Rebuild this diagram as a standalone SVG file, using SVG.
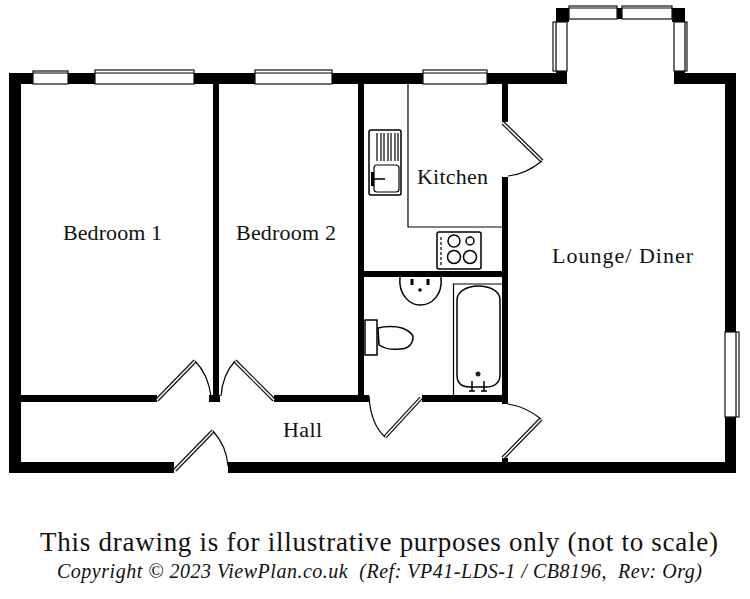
<svg xmlns="http://www.w3.org/2000/svg" width="750" height="599" viewBox="0 0 750 599">
<style>
.w{fill:#000}
.win{fill:#fff;stroke:#111;stroke-width:1.2}
.t{fill:none;stroke:#000;stroke-width:1.2}
.th{fill:none;stroke:#000;stroke-width:1.5}
.leaf{fill:none;stroke:#111;stroke-width:4}
.leafi{fill:none;stroke:#fff;stroke-width:1.6}
text{font-family:"Liberation Serif","DejaVu Serif",serif;fill:#111}
.l{font-size:22px}
</style>
<rect width="750" height="599" fill="#fff"/>
<g id="walls">
<path class="w" d="M9 73H33V84H21V462H174V473H9Z"/>
<rect class="w" x="68" y="73" width="27" height="11"/>
<rect class="w" x="194" y="73" width="62" height="11"/>
<rect class="w" x="332" y="73" width="91" height="11"/>
<rect class="w" x="487" y="73" width="80" height="11"/>
<rect class="w" x="556" y="70" width="11" height="14"/>
<rect class="w" x="556" y="8" width="13" height="14"/>
<rect class="w" x="617" y="8" width="5" height="11"/>
<rect class="w" x="672" y="8" width="13" height="14"/>
<path class="w" d="M674 71H685V73H736V332H725V84H674Z"/>
<path class="w" d="M725 417H736V473H228V462H725Z"/>
<rect class="w" x="213" y="84" width="6" height="312"/>
<rect class="w" x="209" y="395" width="11" height="7"/>
<rect class="w" x="358" y="84" width="6" height="312"/>
<rect class="w" x="502" y="84" width="6" height="38"/>
<rect class="w" x="502" y="177" width="6" height="227"/>
<rect class="w" x="358" y="271" width="150" height="6"/>
<rect class="w" x="21" y="395" width="136" height="7"/>
<rect class="w" x="274" y="395" width="95" height="7"/>
<rect class="w" x="422" y="395" width="86" height="7"/>
<rect class="w" x="502" y="458" width="6" height="5"/>
</g>
<g id="windows">
<rect class="win" x="33" y="71" width="35" height="13"/><path class="t" d="M33 73H68"/>
<rect class="win" x="95" y="70" width="99" height="14"/><path class="t" d="M95 73H194"/>
<rect class="win" x="255" y="70" width="77" height="14"/><path class="t" d="M255 73H332"/>
<rect class="win" x="423" y="70" width="64" height="14"/><path class="t" d="M423 73H487"/>
<rect class="win" x="569" y="6" width="48" height="13"/><path class="t" d="M569 8H617"/>
<rect class="win" x="622" y="6" width="50" height="13"/><path class="t" d="M622 8H672"/>
<rect class="win" x="553" y="22" width="14" height="49"/><path class="t" d="M556 22V71"/>
<rect class="win" x="674" y="22" width="13" height="49"/><path class="t" d="M685 22V71"/>
<rect class="win" x="725" y="332" width="14" height="85"/><path class="t" d="M736 332V417"/>
</g>
<g id="connectors">
<path class="leaf" d="M157 400L195 361"/><path class="leafi" d="M157 400L195 361"/><path class="t" d="M195 361C205 371 209 382 211 396"/>
<path class="leaf" d="M274 400L235 361"/><path class="leafi" d="M274 400L235 361"/><path class="t" d="M235 361C226 371 222 382 221 396"/>
<path class="leaf" d="M175 470L213 431"/><path class="leafi" d="M175 470L213 431"/><path class="t" d="M213 431C222 441 227 452 228 466"/>
<path class="leaf" d="M421 398L385 437"/><path class="leafi" d="M421 398L385 437"/><path class="t" d="M385 437C375 428 370 414 369 396"/>
<path class="leaf" d="M503 458L541 419"/><path class="leafi" d="M503 458L541 419"/><path class="t" d="M541 419C530 410 520 406 508 404"/>
<path class="leaf" d="M503 123L542 161"/><path class="leafi" d="M503 123L542 161"/><path class="t" d="M542 161C532 169 520 175 508 176"/>
</g>
<g id="kitchen-fittings">
<path class="t" d="M408 84V227H502"/>
<rect class="th" x="369" y="130" width="32" height="65" rx="2"/>
<path class="t" d="M377 133V161M381 133V161M384 133V161M388 133V161M391 133V161M395 133V161M398 133V161" stroke-width="1.5"/>
<rect class="t" x="374" y="165" width="25" height="27" rx="3"/>
<path class="w" d="M371 172H374V186H371Z"/>
<path class="th" d="M374 179H385"/>
<rect class="th" x="437" y="232" width="44" height="37" rx="2"/>
<path class="t" d="M441 237V265" stroke-dasharray="3 2" stroke-width="3"/>
<circle class="th" cx="454" cy="241" r="6"/>
<circle class="th" cx="470" cy="241" r="4"/>
<circle class="th" cx="454" cy="257" r="6.5"/>
<circle class="th" cx="470" cy="257" r="6.5"/>
</g>
<g id="bathroom-fittings">
<path class="th" d="M400 277C398 296 411 305 420 305C431 305 443 296 441 277"/>
<path class="w" d="M410.500 279H413.500V285H410.500ZM426.500 279H429.500V285H426.500Z"/><circle cx="420" cy="290" r="1.8" fill="#000"/>
<rect class="th" x="365" y="320" width="12" height="35"/>
<path class="th" d="M378 328C385 326 396 326 402 328C410 331 413 335 413 337C413 344 408 349 400 349C392 350 385 349 379 345Z"/>
<path class="t" d="M453.500 396V284H502"/>
<path class="th" d="M457 300C457 291 468 286 478 286C490 286 500 291 500 300V375C500 383 494 387 486 387H470C462 387 457 383 457 375Z"/>
<circle cx="478" cy="374" r="2.500" fill="#222"/>
<path class="th" stroke-width="2.500" d="M472 381V391M469 391H475M484 381V391M481 391H487"/>
</g>
<g id="labels">
<text class="l" x="63" y="240" textLength="99" lengthAdjust="spacing">Bedroom 1</text>
<text class="l" x="236" y="240" textLength="100" lengthAdjust="spacing">Bedroom 2</text>
<text class="l" x="417" y="184" textLength="71" lengthAdjust="spacing">Kitchen</text>
<text class="l" x="552" y="263" textLength="141" lengthAdjust="spacing">Lounge/ Diner</text>
<text class="l" x="283" y="437" textLength="39" lengthAdjust="spacing">Hall</text>
<text x="40" y="551" font-size="27" textLength="678" lengthAdjust="spacing">This drawing is for illustrative purposes only (not to scale)</text>
<text x="57" y="578" font-size="20" font-style="italic" textLength="645" lengthAdjust="spacing" xml:space="preserve">Copyright © 2023 ViewPlan.co.uk  (Ref: VP41-LDS-1 / CB8196,  Rev: Org)</text>
</g>
</svg>
